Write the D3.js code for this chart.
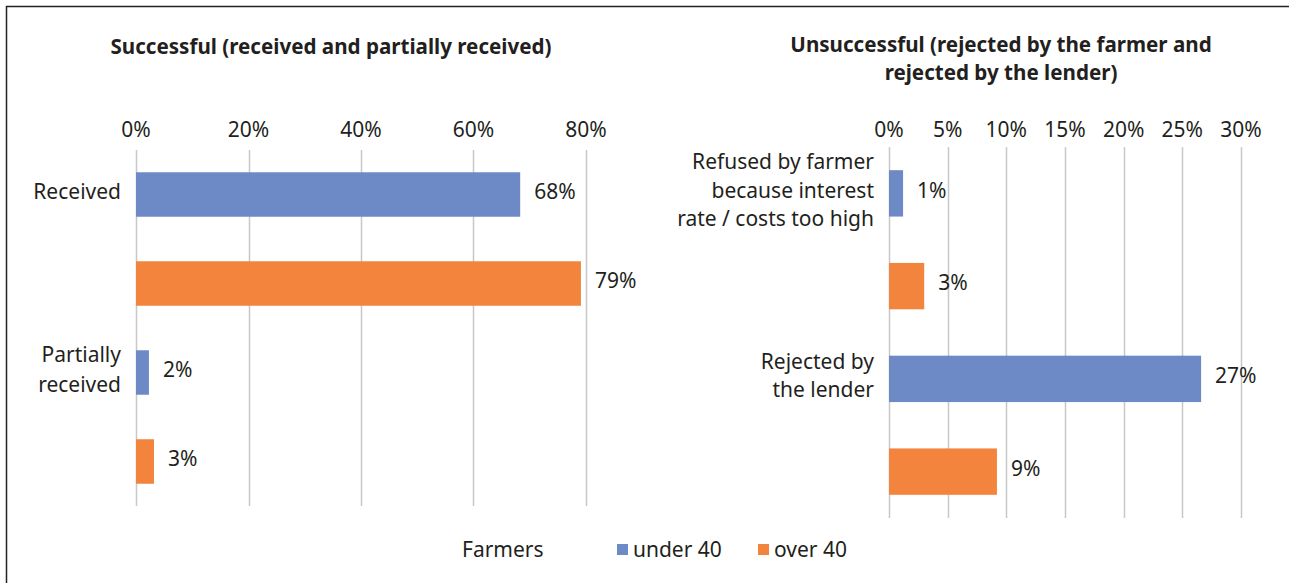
<!DOCTYPE html>
<html>
<head>
<meta charset="utf-8">
<script src="https://cdn.jsdelivr.net/npm/d3@7"></script>
<style>
  body { margin: 0; background: #fff; }
  svg { font-family: "Noto Sans", "Open Sans", sans-serif; }
</style>
</head>
<body>
<svg id="chart" width="1289" height="583"></svg>
<script>
// 資料
const seriesNames = ["under 40", "over 40"];
const seriesColors = ["#6d8ac6", "#f3843d"];

const leftTitle = ["Successful (received and partially received)"];
const leftCategories = [["Received"], ["Partially", "received"]];
const leftUnder40 = [0.683, 0.023];
const leftOver40 = [0.791, 0.032];
const leftLabels = [["68%", "79%"], ["2%", "3%"]];
const leftTicks = [0, 0.2, 0.4, 0.6, 0.8];

const rightTitle = ["Unsuccessful (rejected by the farmer and", "rejected by the lender)"];
const rightCategories = [["Refused by farmer", "because interest", "rate / costs too high"], ["Rejected by", "the lender"]];
const rightUnder40 = [0.012, 0.266];
const rightOver40 = [0.030, 0.092];
const rightLabels = [["1%", "3%"], ["27%", "9%"]];
const rightTicks = [0, 0.05, 0.1, 0.15, 0.2, 0.25, 0.3];

const svg = d3.select("#chart");
const fontSize = 21;

// 外框
svg.append("path")
  .attr("d", "M6.5,583 L6.5,6.5 L1289,6.5")
  .attr("fill", "none")
  .attr("stroke", "#222")
  .attr("stroke-width", 1.5);

function drawPanel(opt) {
  const g = svg.append("g");
  const x = d3.scaleLinear().domain([0, opt.max]).range([opt.x0, opt.x1]);
  // 每個類別兩個 slot
  const slots = d3.range(opt.categories.length * 2);
  const y = d3.scaleBand().domain(slots).range([opt.y0, opt.y1]).paddingInner(0.5).paddingOuter(0.25);

  // 標題
  g.append("text")
    .attr("x", opt.titleX)
    .attr("y", opt.titleY)
    .attr("text-anchor", "middle")
    .style("font-size", "20.6px")
    .style("font-weight", "bold")
    .style("fill", "#231f20")
    .selectAll("tspan")
    .data(opt.title)
    .enter()
    .append("tspan")
    .attr("x", opt.titleX)
    .attr("dy", (d, i) => i === 0 ? 0 : 28)
    .text(d => d);

  // 格線
  g.selectAll("line.grid")
    .data(opt.ticks)
    .enter()
    .append("line")
    .attr("class", "grid")
    .attr("x1", d => Math.round(x(d)) + 0.5)
    .attr("x2", d => Math.round(x(d)) + 0.5)
    .attr("y1", opt.y0)
    .attr("y2", opt.y1)
    .attr("stroke", "#c8c8c8")
    .attr("stroke-width", 1.5);

  // 刻度文字
  g.selectAll("text.tick")
    .data(opt.ticks)
    .enter()
    .append("text")
    .attr("class", "tick")
    .attr("x", d => x(d))
    .attr("y", opt.tickY)
    .attr("text-anchor", "middle")
    .style("font-size", fontSize + "px")
    .style("fill", "#231f20")
    .text(d => d3.format(".0%")(d));

  // 長條
  const bars = [];
  opt.categories.forEach((c, i) => {
    bars.push({ slot: i * 2, v: opt.under[i], label: opt.labels[i][0], s: 0 });
    bars.push({ slot: i * 2 + 1, v: opt.over[i], label: opt.labels[i][1], s: 1 });
  });

  g.selectAll("rect.bar")
    .data(bars)
    .enter()
    .append("rect")
    .attr("class", "bar")
    .attr("x", x(0))
    .attr("y", d => y(d.slot))
    .attr("width", d => x(d.v) - x(0))
    .attr("height", y.bandwidth())
    .attr("fill", d => seriesColors[d.s]);

  g.selectAll("text.val")
    .data(bars)
    .enter()
    .append("text")
    .attr("class", "val")
    .attr("x", d => x(d.v) + 14)
    .attr("y", d => y(d.slot) + y.bandwidth() / 2 - 3)
    .attr("dy", "0.35em")
    .style("font-size", fontSize + "px")
    .style("fill", "#231f20")
    .text(d => d.label);

  // 類別文字 (對齊藍色長條中心)
  opt.categories.forEach((lines, i) => {
    const cy = y(i * 2) + y.bandwidth() / 2 - 3;
    const lh = opt.lineH;
    g.append("text")
      .attr("x", x(0) - 15)
      .attr("y", cy - (lines.length - 1) * lh / 2)
      .attr("text-anchor", "end")
      .style("font-size", fontSize + "px")
      .style("fill", "#231f20")
      .selectAll("tspan")
      .data(lines)
      .enter()
      .append("tspan")
      .attr("x", x(0) - 15)
      .attr("dy", (d, j) => j === 0 ? "0.35em" : lh)
      .text(d => d);
  });
}

drawPanel({
  x0: 136, x1: 586, max: 0.8, y0: 150, y1: 506, tickY: 137, lineH: 30,
  titleX: 331, titleY: 54,
  title: leftTitle, categories: leftCategories,
  under: leftUnder40, over: leftOver40, labels: leftLabels, ticks: leftTicks
});

drawPanel({
  x0: 889, x1: 1241, max: 0.3, y0: 147, y1: 518, tickY: 137, lineH: 28.5,
  titleX: 1001, titleY: 52,
  title: rightTitle, categories: rightCategories,
  under: rightUnder40, over: rightOver40, labels: rightLabels, ticks: rightTicks
});

// 圖例
const legend = svg.append("g");
legend.append("text")
  .attr("x", 462)
  .attr("y", 557)
  .style("font-size", fontSize + "px")
  .style("fill", "#231f20")
  .text("Farmers");

const legendX = [617, 758];
const items = legend.selectAll("g.item")
  .data(seriesNames)
  .enter()
  .append("g")
  .attr("class", "item")
  .attr("transform", (d, i) => `translate(${legendX[i]},0)`);

items.append("rect")
  .attr("x", 0)
  .attr("y", 544)
  .attr("width", 11)
  .attr("height", 11)
  .attr("fill", (d, i) => seriesColors[i]);

items.append("text")
  .attr("x", 16)
  .attr("y", 557)
  .style("font-size", fontSize + "px")
  .style("fill", "#231f20")
  .text(d => d);
</script>
</body>
</html>
